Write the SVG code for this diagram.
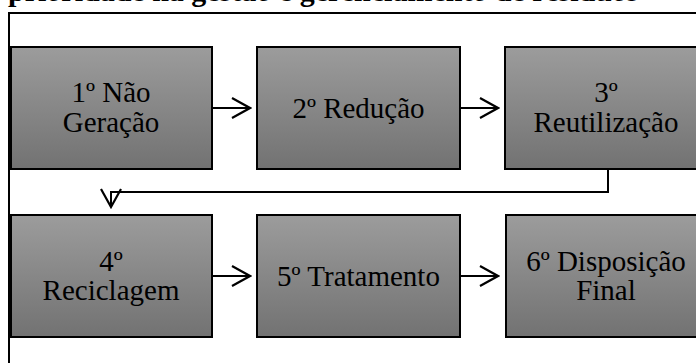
<svg xmlns="http://www.w3.org/2000/svg" width="696" height="363" viewBox="0 0 696 363">
<style>
.box{stroke:#000;stroke-width:2;fill:url(#g)}
.t{font-family:"Liberation Serif","Times New Roman",serif;font-size:29px;fill:#000;text-anchor:middle}
.title{font-family:"Liberation Serif","Times New Roman",serif;font-size:30px;font-weight:bold;fill:#000}
.c{fill:none;stroke:#000;stroke-width:2}
</style>
<defs>
<linearGradient id="g" x1="0" y1="0" x2="0" y2="1">
<stop offset="0" stop-color="#9c9c9c"/>
<stop offset="1" stop-color="#727272"/>
</linearGradient>
<marker id="ah" viewBox="-21 -13 23 26" markerWidth="23" markerHeight="26" refX="0" refY="0" orient="auto" markerUnits="userSpaceOnUse">
<path d="M-18,-10 L0,0 L-18,10" fill="none" stroke="#000" stroke-width="2.2"/>
</marker>
</defs>
<rect width="696" height="363" fill="#fff"/>
<text class="title" x="8" y="1">prioridade na gestão e gerenciamento de resíduos</text>
<path id="frame" d="M9,363 V13 H696" fill="none" stroke="#000" stroke-width="2"/>
<g id="connectors">
<path class="c" d="M212,108 H250" marker-end="url(#ah)"/>
<path class="c" d="M460,108 H498" marker-end="url(#ah)"/>
<path class="c" d="M608,169 V192 H111 V207" marker-end="url(#ah)"/>
<path class="c" d="M212,276 H250" marker-end="url(#ah)"/>
<path class="c" d="M460,276 H498" marker-end="url(#ah)"/>
</g>
<g id="n1"><rect class="box" x="11" y="47" width="201" height="122"/><text class="t" x="111" y="102">1º Não</text><text class="t" x="111" y="132">Geração</text></g>
<g id="n2"><rect class="box" x="257" y="47" width="203" height="122"/><text class="t" x="358.5" y="118">2º Redução</text></g>
<g id="n3"><rect class="box" x="505" y="47" width="203" height="122"/><text class="t" x="606" y="102">3º</text><text class="t" x="606" y="132">Reutilização</text></g>
<g id="n4"><rect class="box" x="11" y="215" width="201" height="122"/><text class="t" x="111" y="271">4º</text><text class="t" x="111" y="300">Reciclagem</text></g>
<g id="n5"><rect class="box" x="257" y="215" width="203" height="122"/><text class="t" x="358.5" y="286">5º Tratamento</text></g>
<g id="n6"><rect class="box" x="506" y="215" width="203" height="122"/><text class="t" x="606" y="271">6º Disposição</text><text class="t" x="606" y="300">Final</text></g>
</svg>
